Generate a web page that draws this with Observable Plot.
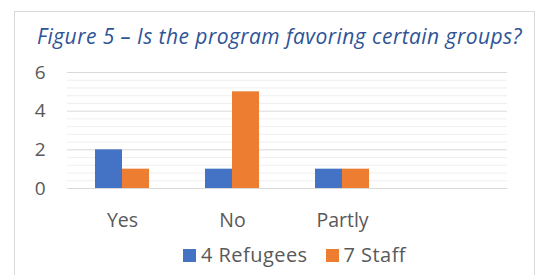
<!DOCTYPE html>
<html>
<head>
<meta charset="utf-8">
<script src="https://cdn.jsdelivr.net/npm/d3@7"></script>
<script src="https://cdn.jsdelivr.net/npm/@observablehq/plot@0.6"></script>
<style>
  body { margin: 0; background: #fff; }
  #wrap { position: relative; width: 536px; height: 275px; overflow: hidden; font-family: "Open Sans", sans-serif; }
  #frame { position: absolute; left: 14px; top: 11px; width: 521px; height: 300px; border: 1px solid #D9D9D9; box-sizing: border-box; }
  #title { position: absolute; left: 37px; top: 26px; font-size: 21px; line-height: 21px; font-style: italic; color: #2F5496; white-space: nowrap; }
  #chart { position: absolute; left: 0; top: 0; }
  #legend { position: absolute; left: 183px; top: 244.5px; display: flex; font-size: 20px; line-height: 20px; color: #595959; white-space: nowrap; letter-spacing: 0.45px; }
  .item { display: flex; align-items: flex-start; margin-right: 18px; }
  .sw { width: 13px; height: 13px; margin-top: 4.5px; margin-right: 5px; }
</style>
</head>
<body>
<div id="wrap">
  <div id="frame"></div>
  <div id="chart"></div>
  <div id="title"></div>
  <div id="legend"></div>
</div>
<script>
const titleText = "Figure 5 – Is the program favoring certain groups?";
const categories = ["Yes", "No", "Partly"];
const emptyCategory = " ";
const seriesNames = ["4 Refugees", "7 Staff"];
const refugees = [2, 1, 1];
const staff = [1, 5, 1];
const yTicks = [0, 2, 4, 6];
const yMinorTicks = [0.4, 0.8, 1.2, 1.6, 2.4, 2.8, 3.2, 3.6, 4.4, 4.8, 5.2, 5.6];
const colors = ["#4472C4", "#ED7D31"];

const fxDomain = [...categories, emptyCategory];
const data = categories.flatMap((c, i) => [
  {cat: c, series: seriesNames[0], value: refugees[i]},
  {cat: c, series: seriesNames[1], value: staff[i]}
]);
// gridlines repeated in every category cell (including the empty one)
const minorGrid = fxDomain.flatMap(c => yMinorTicks.map(v => ({cat: c, v})));
const majorGrid = fxDomain.flatMap(c => yTicks.map(v => ({cat: c, v})));

const chart = Plot.plot({
  width: 536,
  height: 240,
  marginLeft: 66,
  marginRight: 29,
  marginTop: 72,
  marginBottom: 52,
  style: {fontFamily: "Open Sans", color: "#595959", background: "transparent", overflow: "visible"},
  fx: {domain: fxDomain, padding: 0, label: null, axis: null},
  x: {domain: seriesNames, paddingInner: 0, paddingOuter: 1, axis: null},
  y: {domain: [0, 6], label: null},
  color: {domain: seriesNames, range: colors},
  marks: [
    Plot.ruleY(minorGrid, {fx: "cat", y: "v", stroke: "#EFEFEF", strokeWidth: 1}),
    Plot.ruleY(majorGrid, {fx: "cat", y: "v", stroke: "#D9D9D9", strokeWidth: 1}),
    Plot.barY(data, {fx: "cat", x: "series", y: "value", fill: "series"}),
    Plot.axisY({ticks: yTicks, tickFormat: d => String(d), tickSize: 0, tickPadding: 22, fontSize: 19, label: null}),
    Plot.axisFx({anchor: "bottom", tickSize: 0, tickPadding: 25, fontSize: 19.5, label: null})
  ]
});
document.getElementById("chart").appendChild(chart);

const t = document.getElementById("title");
t.textContent = titleText;
// fit the title to the reference width
const targetW = 485;
const w = t.getBoundingClientRect().width;
t.style.letterSpacing = ((targetW - w) / titleText.length) + "px";

const lg = document.getElementById("legend");
seriesNames.forEach((s, i) => {
  const it = document.createElement("div");
  it.className = "item";
  const sw = document.createElement("div");
  sw.className = "sw";
  sw.style.background = colors[i];
  const tx = document.createElement("span");
  tx.textContent = s;
  it.appendChild(sw);
  it.appendChild(tx);
  lg.appendChild(it);
});
</script>
</body>
</html>
